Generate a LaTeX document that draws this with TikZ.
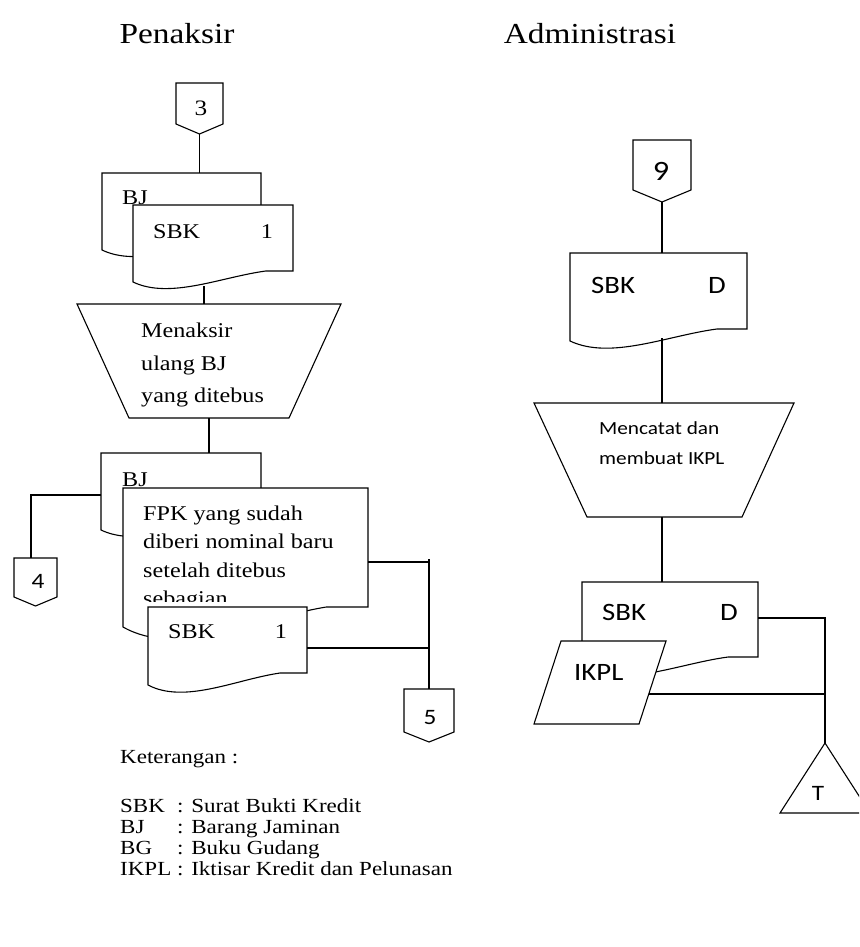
\documentclass[tikz,border=0pt]{standalone}
\usepackage{fontspec}
\setmainfont{Liberation Serif}[FakeStretch=1.15]
\newfontfamily\sansf{Carlito}[FakeStretch=1.15]
\tikzset{
  shp/.style={draw=black, line width=1.1pt, fill=white, line join=miter},
  ln/.style={draw=black, line width=1.1pt},
  ser/.style={font=\fontsize{21}{25}\selectfont, inner sep=0pt},
  sertitle/.style={font=\fontsize{29}{34}\selectfont, inner sep=0pt},
  serleg/.style={font=\fontsize{20}{24}\selectfont, inner sep=0pt},
  sanbig/.style={font=\sansf\fontsize{25}{30}\selectfont, inner sep=0pt},
  sanmid/.style={font=\sansf\fontsize{18.5}{22}\selectfont, inner sep=0pt},
  sansm/.style={font=\sansf\fontsize{22}{26}\selectfont, inner sep=0pt},
}
% document symbol: [style]{x1}{ytop}{x2}{y left bottom}{y right bottom}
\newcommand\mydoc[6][]{%
  \draw[shp,#1] (#2,#3) -- (#4,#3) -- (#4,#6) -- ({#2+0.83*(#4-#2)},#6)
    .. controls ({#2+0.55*(#4-#2)},{#6+0.55*(#5-#6)}) and ({#2+0.23*(#4-#2)},{#5+1.6*(#5-#6)}) .. (#2,#5) -- cycle;}
\begin{document}
\begin{tikzpicture}[x=1pt,y=-1pt]
\useasboundingbox[fill=white] (0,0) rectangle (859,947);

% titles
\node[sertitle, anchor=base] (tpen) at (177,44) {Penaksir};
\node[sertitle, anchor=base] (tadm) at (590,44) {Administrasi};

% ---------------- Penaksir ----------------
\draw[shp] (176,83) -- (223,83) -- (223,124) -- (199.5,134) -- (176,124) -- cycle;
\node[font=\fontsize{22}{26}\selectfont, inner sep=0pt, anchor=base] (n3) at (201,116) {3};
\coordinate (c3b) at (199.5,134);
\coordinate (bj1t) at (199.5,173);
\draw[ln] (c3b) -- (bj1t);

\mydoc{102}{173}{261}{250}{239}
\node[ser, anchor=base west] (bj1) at (122,204) {BJ};
\mydoc{133}{205}{293}{282}{271}
\node[ser, anchor=base west] (sbk1) at (153,238) {SBK};
\node[ser, anchor=base] (one1) at (267,238) {1};

\coordinate (sbk1b) at (204,286);
\coordinate (tr1t) at (204,304);
\draw[ln] (sbk1b) -- (tr1t);

\draw[shp] (77,304) -- (341,304) -- (289,418) -- (129,418) -- cycle;
\node[ser, anchor=base west] (m1) at (141,337) {Menaksir};
\node[ser, anchor=base west] (m2) at (141,370) {ulang BJ};
\node[ser, anchor=base west] (m3) at (141,402) {yang ditebus};

\coordinate (tr1b) at (209,418);
\coordinate (bj2t) at (209,453);
\draw[ln] (tr1b) -- (bj2t);

\mydoc{101}{453}{261}{530}{519}
\node[ser, anchor=base west] (bj2) at (122,486) {BJ};
\coordinate (bj2l) at (101,495);
\coordinate (k4) at (31,495);
\coordinate (c4t) at (31,558);
\draw[ln] (bj2l) -- (k4) -- (c4t);
\draw[shp] (14,558) -- (57,558) -- (57,597) -- (35.5,606) -- (14,597) -- cycle;
\node[sansm, anchor=base] (n4) at (38,588) {4};

\mydoc{123}{488}{368}{627}{607}
\begin{scope}
  \clip (123,488) rectangle (368,601);
  \node[ser, anchor=base west] (f1) at (143,520) {FPK yang sudah};
  \node[ser, anchor=base west] (f2) at (143,548.5) {diberi nominal baru};
  \node[ser, anchor=base west] (f3) at (143,577) {setelah ditebus};
  \node[ser, anchor=base west] (f4) at (143,605.5) {sebagian};
\end{scope}
\mydoc{148}{607}{307}{685}{673}
\node[ser, anchor=base west] (sbk2) at (168,638) {SBK};
\node[ser, anchor=base] (one2) at (281,638) {1};

\coordinate (fpkr) at (368,562);
\coordinate (v5t) at (429,559);
\coordinate (v5m) at (429,562);
\coordinate (sbk2r) at (307,648);
\coordinate (v5n) at (429,648);
\coordinate (c5t) at (429,689);
\draw[ln] (fpkr) -- (v5m);
\draw[ln] (sbk2r) -- (v5n);
\draw[ln] (v5t) -- (c5t);
\draw[shp] (404,689) -- (454,689) -- (454,732) -- (429,742) -- (404,732) -- cycle;
\node[sansm, anchor=base] (n5) at (430,724) {5};

% ---------------- Administrasi ----------------
\draw[shp] (633,140) -- (691,140) -- (691,190) -- (662,202) -- (633,190) -- cycle;
\node[font=\sansf\fontsize{28}{32}\selectfont, inner sep=0pt, anchor=base] (n9) at (661,180) {9};
\coordinate (c9b) at (662,202);
\coordinate (sbk3t) at (662,253);
\draw[ln] (c9b) -- (sbk3t);

\mydoc{570}{253}{747}{341}{329}
\node[sanbig, anchor=base west] (sbk3) at (591,293) {SBK};
\node[sanbig, anchor=base] (d3) at (717,293) {D};

\coordinate (sbk3b) at (662,338);
\coordinate (tr2t) at (662,403);
\draw[ln] (sbk3b) -- (tr2t);
\draw[shp] (534,403) -- (794,403) -- (742,517) -- (587,517) -- cycle;
\node[sanmid, anchor=base west] (mc1) at (599,434) {Mencatat dan};
\node[sanmid, anchor=base west] (mc2) at (599,464) {membuat IKPL};

\coordinate (tr2b) at (662,517);
\coordinate (sbk4t) at (662,582);
\draw[ln] (tr2b) -- (sbk4t);

\mydoc{582}{582}{758}{669}{657}
\node[sanbig, anchor=base west] (sbk4) at (602,620) {SBK};
\node[sanbig, anchor=base] (d4) at (729,620) {D};
\draw[shp] (561,641) -- (666,641) -- (639,724) -- (534,724) -- cycle;
\node[sanbig, anchor=base west] (ikpl) at (574,680) {IKPL};

\coordinate (sbk4r) at (758,618);
\coordinate (kT) at (825,618);
\coordinate (tT) at (825,743);
\coordinate (ikr) at (649,694);
\coordinate (vT) at (825,694);
\draw[ln] (sbk4r) -- (kT) -- (tT);
\draw[ln] (ikr) -- (vT);
\begin{scope}
  \clip (0,0) rectangle (859,947);
  \draw[shp] (825,743) -- (870,813) -- (780,813) -- cycle;
\end{scope}
\node[sansm, anchor=base] (nT) at (818,800) {T};

% ---------------- legend ----------------
\node[serleg, anchor=base west] (ket) at (120,763) {Keterangan :};
\node[serleg, anchor=base west] (l1a) at (120,812) {SBK};
\node[serleg, anchor=base west] (l1b) at (177,812) {: Surat Bukti Kredit};
\node[serleg, anchor=base west] (l2a) at (120,833) {BJ};
\node[serleg, anchor=base west] (l2b) at (177,833) {: Barang Jaminan};
\node[serleg, anchor=base west] (l3a) at (120,854) {BG};
\node[serleg, anchor=base west] (l3b) at (177,854) {: Buku Gudang};
\node[serleg, anchor=base west] (l4a) at (120,875) {IKPL};
\node[serleg, anchor=base west] (l4b) at (177,875) {: Iktisar Kredit dan Pelunasan};
\end{tikzpicture}
\end{document}
